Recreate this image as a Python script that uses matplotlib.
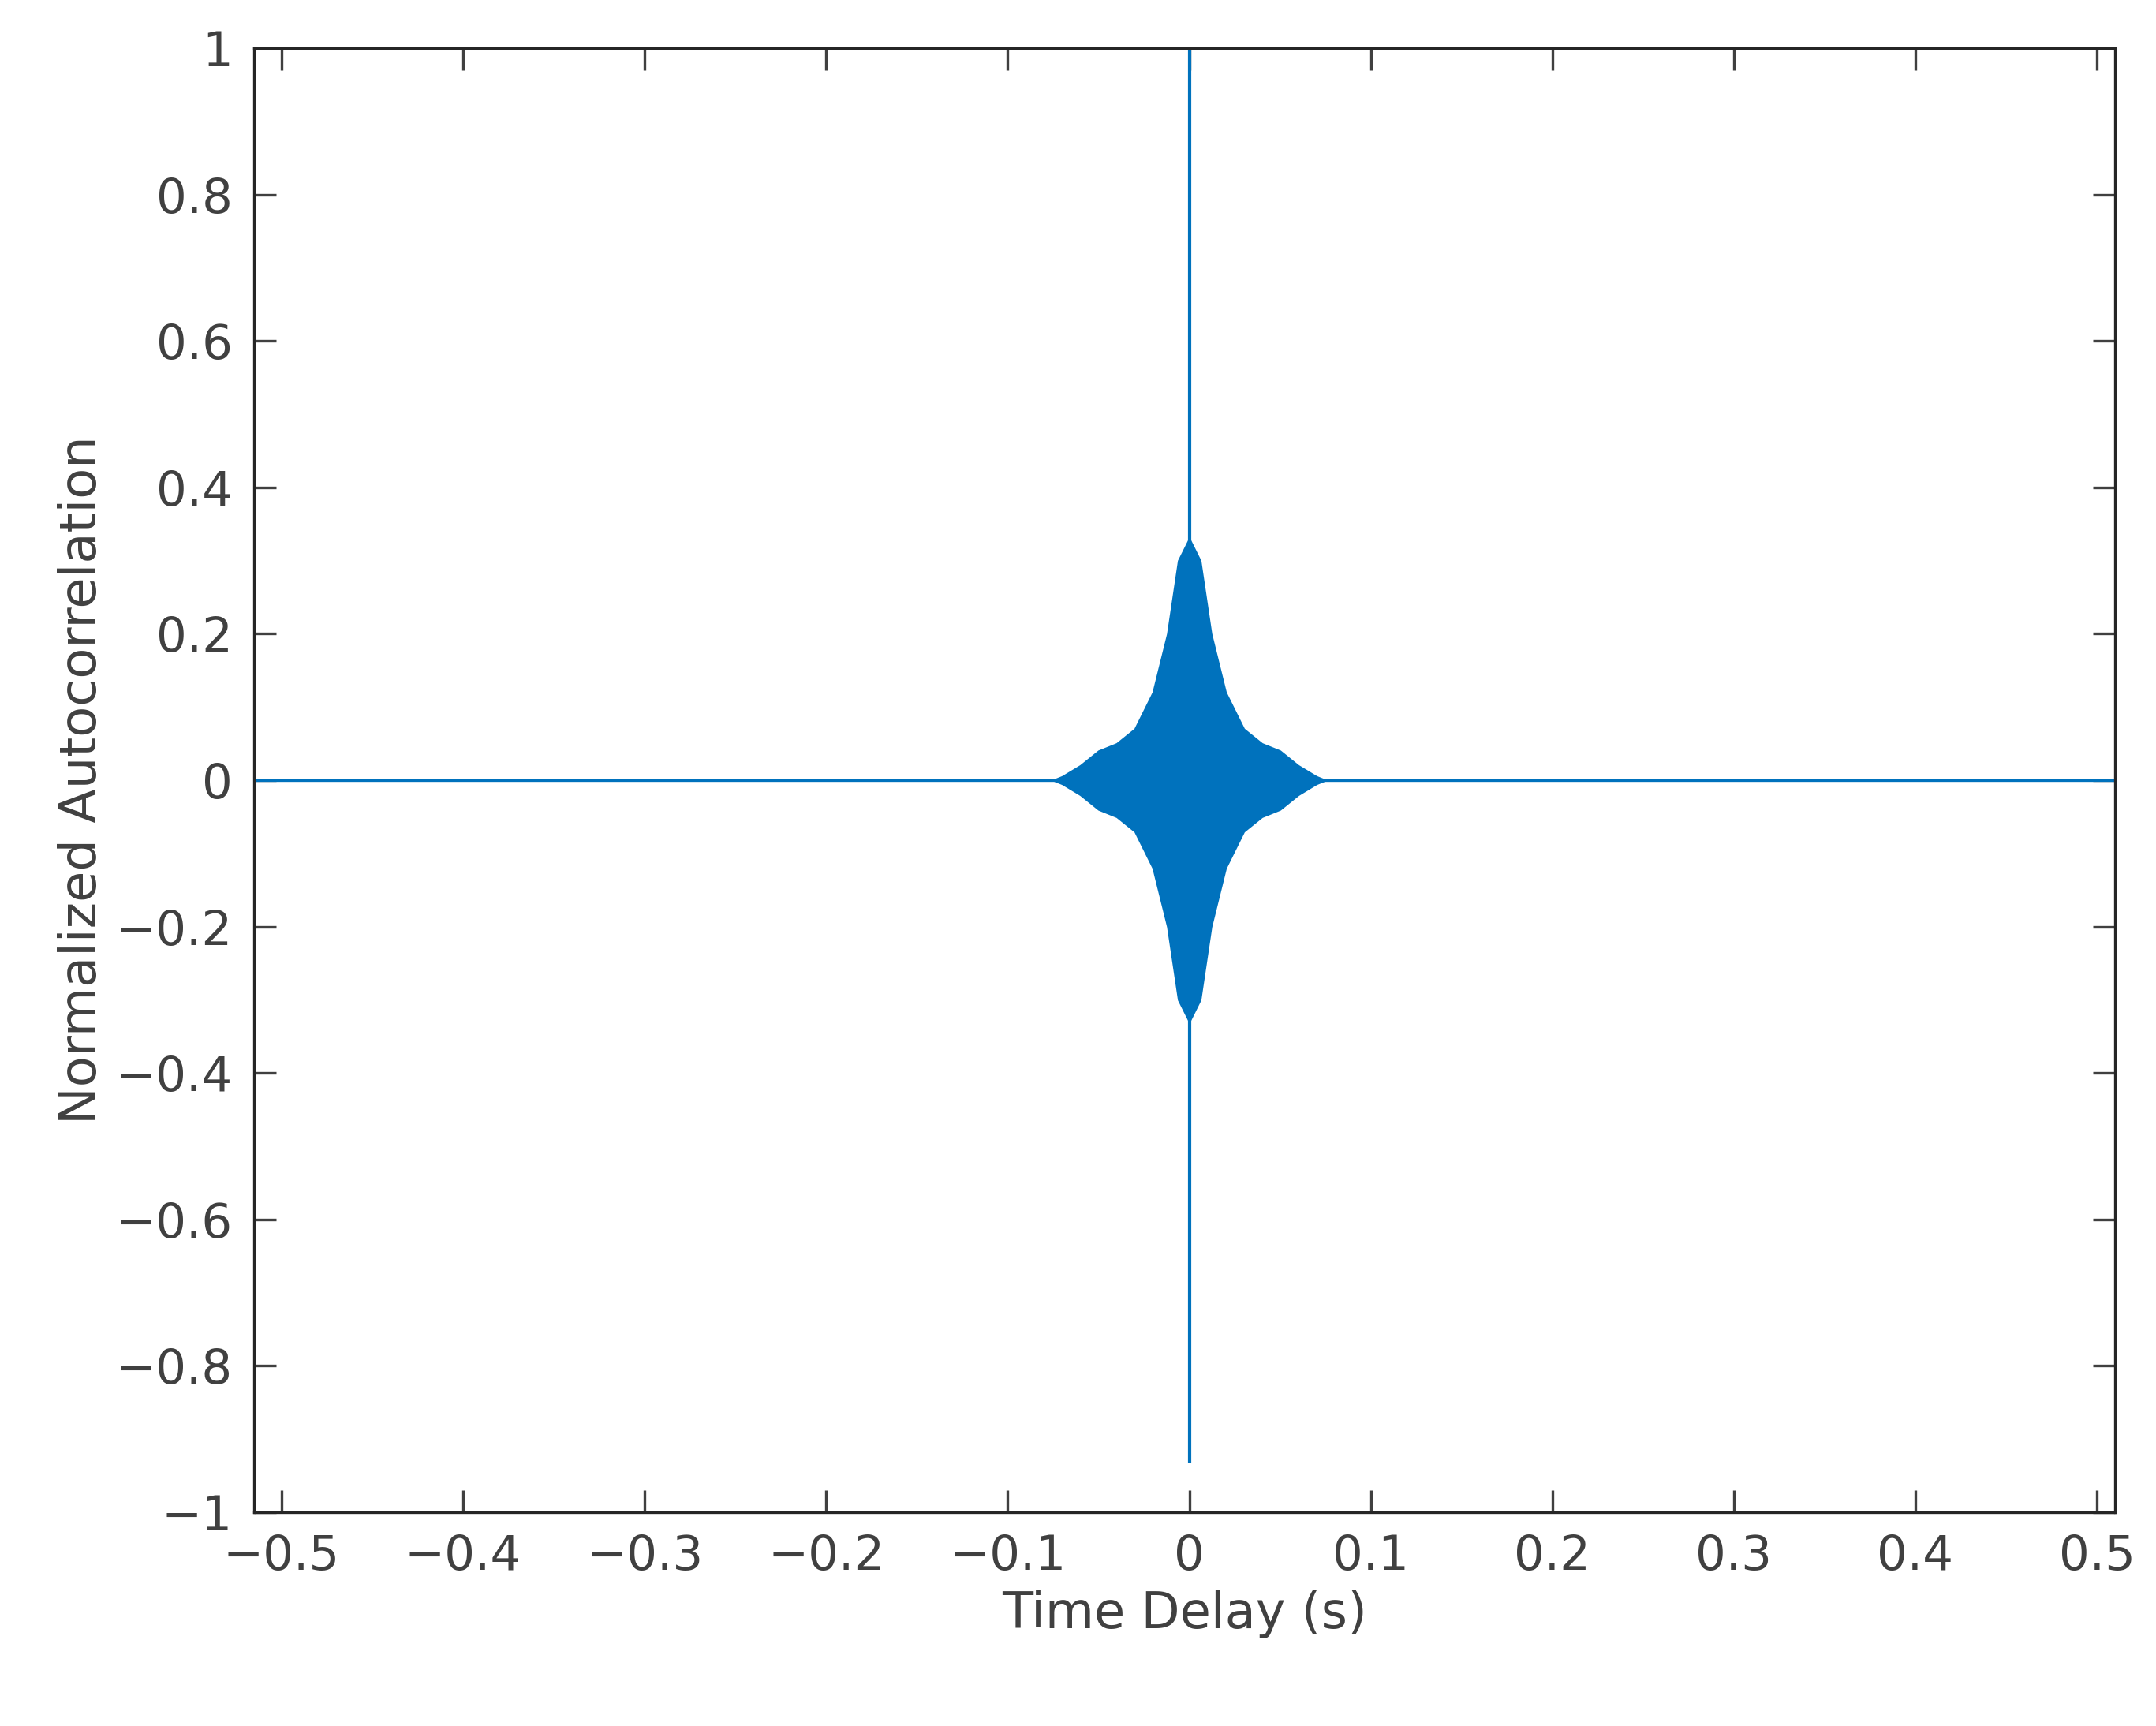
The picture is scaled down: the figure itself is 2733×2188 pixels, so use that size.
import numpy as np
import matplotlib.pyplot as plt

# envelope of the autocorrelation burst
lag = [-0.515, -0.075, -0.07, -0.06, -0.05, -0.04, -0.03, -0.02, -0.012, -0.006, -0.002, 0.0,
       0.002, 0.006, 0.012, 0.02, 0.03, 0.04, 0.05, 0.06, 0.07, 0.075, 0.515]
upper = [0.0, 0.0, 0.005, 0.02, 0.04, 0.05, 0.07, 0.12, 0.2, 0.3, 0.32, 0.33,
         0.32, 0.3, 0.2, 0.12, 0.07, 0.05, 0.04, 0.02, 0.005, 0.0, 0.0]
lower = [0.0, 0.0, -0.005, -0.02, -0.04, -0.05, -0.07, -0.12, -0.2, -0.3, -0.32, -0.33,
         -0.32, -0.3, -0.2, -0.12, -0.07, -0.05, -0.04, -0.02, -0.005, 0.0, 0.0]
# central spike
spike_x = [0.0, 0.0]
spike_y = [-0.93, 1.0]

blue = '#0072BD'
gray = '#404040'

fig = plt.figure(figsize=(13.665, 10.94), dpi=200)
ax = fig.add_axes([0.118, 0.124, 0.863, 0.848])

ax.fill_between(lag, lower, upper, color=blue, linewidth=0.8)
ax.plot(lag, [0] * len(lag), color=blue, linewidth=1.2)
ax.plot(spike_x, spike_y, color=blue, linewidth=1.5)

ax.set_xlim(-0.515, 0.51)
ax.set_ylim(-1, 1)
ax.set_xticks(np.arange(-0.5, 0.51, 0.1))
ax.set_xticklabels(['\u22120.5', '\u22120.4', '\u22120.3', '\u22120.2', '\u22120.1', '0',
                    '0.1', '0.2', '0.3', '0.4', '0.5'])
ax.set_yticks(np.arange(-1, 1.01, 0.2))
ax.set_yticklabels(['\u22121', '\u22120.8', '\u22120.6', '\u22120.4', '\u22120.2', '0',
                    '0.2', '0.4', '0.6', '0.8', '1'])
ax.tick_params(direction='in', top=True, right=True, length=10, width=1.2,
               labelsize=22, colors=gray, pad=10)
for s in ax.spines.values():
    s.set_color('#262626')
    s.set_linewidth(1.2)

ax.set_xlabel('Time Delay (s)', fontsize=23, color=gray)
ax.set_ylabel('Normalized Autocorrelation', fontsize=23, color=gray)

fig.savefig('out.png')
